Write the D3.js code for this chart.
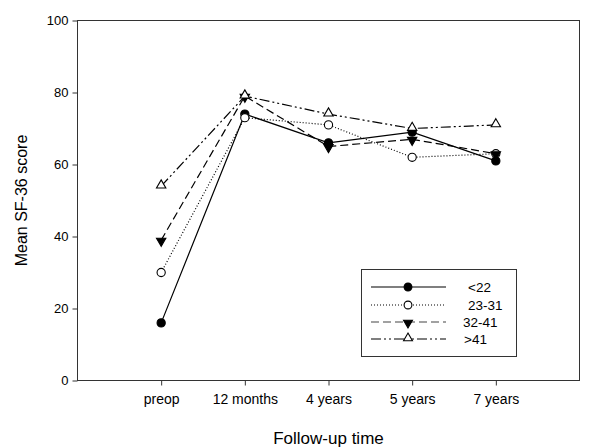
<!DOCTYPE html>
<html><head><meta charset="utf-8">
<script src="https://cdn.jsdelivr.net/npm/d3@7"></script>
<style>body{margin:0;background:#fff}svg{display:block;font-family:Arial,"Liberation Sans",sans-serif}</style>
</head><body>
<svg id="c" width="600" height="448"></svg>
<script>
const categories = ["preop", "12 months", "4 years", "5 years", "7 years"];
const seriesNames = ["<22", "23-31", "32-41", ">41"];
const s1 = [16, 74, 66, 69, 61];
const s2 = [30, 73, 71, 62, 63];
const s3 = [39, 79, 65, 67, 63];
const s4 = [54, 79, 74, 70, 71];
const yTicks = [0, 20, 40, 60, 80, 100];

const series = [
  {name: seriesNames[0], values: s1, dash: null, marker: "circle", fill: "#000"},
  {name: seriesNames[1], values: s2, dash: "1,2", marker: "circle", fill: "#fff"},
  {name: seriesNames[2], values: s3, dash: "8,4", marker: "down", fill: "#000"},
  {name: seriesNames[3], values: s4, dash: "10,3,2,3,2,3", marker: "up", fill: "#fff"}
];

const svg = d3.select("#c");
const L = 77.5, R = 579.5, T = 20.5, B = 380.5;
const x = d3.scaleLinear().domain([0, categories.length + 1]).range([L, R]);
const y = d3.scaleLinear().domain([0, 100]).range([B, T]);

// frame
svg.append("rect").attr("x", L).attr("y", T).attr("width", R - L).attr("height", B - T)
  .attr("fill", "none").attr("stroke", "#333").attr("stroke-width", 1);

// y axis
const ya = svg.append("g").attr("transform", `translate(${L},0)`)
  .call(d3.axisLeft(y).tickValues(yTicks).tickSize(5).tickPadding(4));
ya.select(".domain").remove();
ya.selectAll("line").attr("stroke", "#333");
ya.selectAll("text").attr("font-size", 13).attr("fill", "#000").attr("font-family", "Arial, 'Liberation Sans', sans-serif");

// x axis
const xa = svg.append("g").attr("transform", `translate(0,${B})`)
  .call(d3.axisBottom(x).tickValues(categories.map((c, i) => i + 1))
    .tickFormat(d => categories[d - 1]).tickSize(5).tickPadding(9));
xa.select(".domain").remove();
xa.selectAll("line").attr("stroke", "#333");
xa.selectAll("text").attr("font-size", 14).attr("fill", "#000").attr("font-family", "Arial, 'Liberation Sans', sans-serif");

// titles
svg.append("text").attr("x", (L + R) / 2).attr("y", 444).attr("text-anchor", "middle")
  .attr("font-size", 17).text("Follow-up time");
svg.append("text").attr("transform", `translate(27,${(T + B) / 2}) rotate(-90)`)
  .attr("text-anchor", "middle").attr("font-size", 16).text("Mean SF-36 score");

function drawMarker(g, m, fill, cx, cy, scale) {
  const k = scale || 1;
  if (m === "circle") {
    g.append("circle").attr("cx", cx).attr("cy", cy).attr("r", 4.1 * k)
      .attr("fill", fill).attr("stroke", "#000").attr("stroke-width", 1.1);
  } else {
    const tri = d3.symbol().type(d3.symbolTriangle).size(38 * k * k)();
    g.append("path").attr("d", tri)
      .attr("transform", `translate(${cx},${cy + (m === "down" ? 0.8 : -0.8)}) rotate(${m === "down" ? 180 : 0})`)
      .attr("fill", fill).attr("stroke", "#000").attr("stroke-width", 1.1);
  }
}

const line = d3.line().x((d, i) => x(i + 1)).y(d => y(d));
series.forEach(s => {
  svg.append("path").datum(s.values).attr("d", line)
    .attr("fill", "none").attr("stroke", "#000").attr("stroke-width", 1.2)
    .attr("stroke-dasharray", s.dash);
});
series.forEach(s => {
  const g = svg.append("g");
  s.values.forEach((v, i) => drawMarker(g, s.marker, s.fill, x(i + 1), y(v)));
});

// legend
const lg = svg.append("g");
lg.append("rect").attr("x", 361.5).attr("y", 269.5).attr("width", 155).attr("height", 87)
  .attr("fill", "#fff").attr("stroke", "#333");
const rowY = [287, 305, 322, 339];
const textX = [468, 468, 463, 464];
series.forEach((s, i) => {
  lg.append("line").attr("x1", 371).attr("x2", 446).attr("y1", rowY[i]).attr("y2", rowY[i])
    .attr("stroke", s.dash === "8,4" ? "#444" : "#000").attr("stroke-width", 1.2).attr("stroke-dasharray", s.dash);
  drawMarker(lg, s.marker, s.fill, 408, rowY[i], 0.95);
  lg.append("text").attr("x", textX[i]).attr("y", rowY[i] + 5).attr("font-size", 13.5).text(s.name);
});
</script>
</body></html>
